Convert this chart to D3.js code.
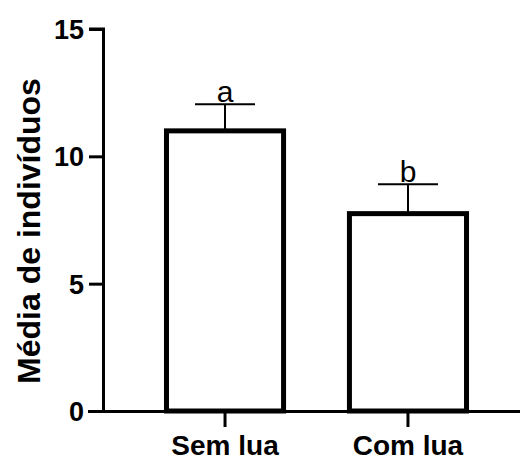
<!DOCTYPE html>
<html>
<head>
<meta charset="utf-8">
<script src="https://cdn.jsdelivr.net/npm/d3@7"></script>
<style>
  body { margin: 0; background: #fff; }
  text { font-family: Arial, "Liberation Sans", sans-serif; }
</style>
</head>
<body>
<div id="chart"></div>
<script>
// data
var groups = ["Sem lua", "Com lua"];
var means = [11.0, 7.75];
var errors = [1.05, 1.15];
var letters = ["a", "b"];
var yTicks = [0, 5, 10, 15];

var width = 523, height = 461;

var svg = d3.select("#chart").append("svg")
	.attr("width", width)
	.attr("height", height);

var y = d3.scaleLinear()
	.domain([0, 15])
	.range([411, 29]);

var x = d3.scaleBand()
	.domain(groups)
	.range([103, 530])
	.paddingInner(0.36)
	.paddingOuter(0.347);

// bars
svg.selectAll(".bar")
	.data(groups)
	.enter().append("rect")
	.attr("class", "bar")
	.attr("x", function(d) { return x(d); })
	.attr("y", function(d, i) { return y(means[i]); })
	.attr("width", x.bandwidth())
	.attr("height", function(d, i) { return y(0) - y(means[i]); })
	.attr("fill", "#fff")
	.attr("stroke", "#000")
	.attr("stroke-width", 5);

// error bars (upper only)
var eb = svg.selectAll(".err")
	.data(groups)
	.enter().append("g")
	.attr("class", "err");

eb.append("line")
	.attr("x1", function(d) { return x(d) + x.bandwidth() / 2; })
	.attr("x2", function(d) { return x(d) + x.bandwidth() / 2; })
	.attr("y1", function(d, i) { return y(means[i]); })
	.attr("y2", function(d, i) { return y(means[i] + errors[i]); })
	.attr("stroke", "#000")
	.attr("stroke-width", 2);

eb.append("line")
	.attr("x1", function(d) { return x(d) + x.bandwidth() / 2 - 30; })
	.attr("x2", function(d) { return x(d) + x.bandwidth() / 2 + 30; })
	.attr("y1", function(d, i) { return y(means[i] + errors[i]); })
	.attr("y2", function(d, i) { return y(means[i] + errors[i]); })
	.attr("stroke", "#000")
	.attr("stroke-width", 2);

eb.append("text")
	.attr("x", function(d) { return x(d) + x.bandwidth() / 2; })
	.attr("y", function(d, i) { return y(means[i] + errors[i]) - 2; })
	.attr("text-anchor", "middle")
	.attr("font-size", 30)
	.text(function(d, i) { return letters[i]; });

// y axis
var yAxis = svg.append("g")
	.attr("transform", "translate(103,0)")
	.call(d3.axisLeft(y).tickValues(yTicks).tickSize(14).tickPadding(5));

// x axis
var xAxis = svg.append("g")
	.attr("transform", "translate(0,411)")
	.call(d3.axisBottom(x).tickSize(16).tickPadding(8));

xAxis.select(".domain").attr("d", "M88,0.5H520");
yAxis.select(".domain").attr("d", "M0.5,411H0.5V29H-14");

[xAxis, yAxis].forEach(function(a) {
	a.selectAll(".domain, .tick line")
		.attr("stroke", "#000")
		.attr("stroke-width", 3);
	a.selectAll(".tick text")
		.attr("fill", "#000")
		.attr("font-weight", "bold")
		.style("font-family", "Arial, 'Liberation Sans', sans-serif");
});
yAxis.selectAll(".tick text").attr("font-size", 27).attr("dy", "0.35em");
xAxis.selectAll(".tick text").attr("font-size", 28).attr("dy", "0.71em");

// y label
svg.append("text")
	.attr("transform", "translate(40,231) rotate(-90)")
	.attr("text-anchor", "middle")
	.attr("font-size", 32)
	.attr("font-weight", "bold")
	.text("Média de indivíduos");
</script>
</body>
</html>
